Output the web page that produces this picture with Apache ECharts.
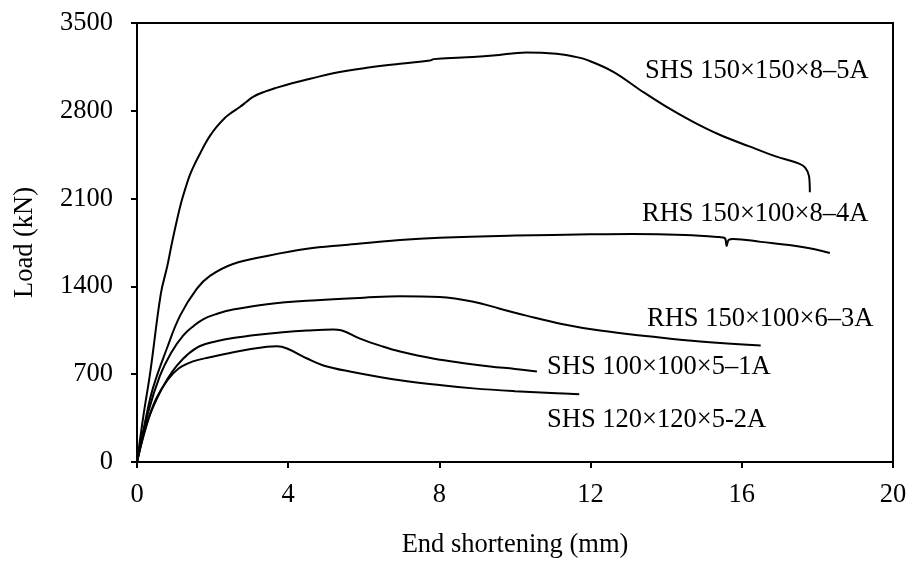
<!DOCTYPE html>
<html>
<head>
<meta charset="utf-8">
<script src="https://cdn.jsdelivr.net/npm/echarts@6/dist/echarts.min.js"></script>
<style>
html,body{margin:0;padding:0;background:#fff;}
#chart{width:914px;height:564px;}
</style>
</head>
<body>
<div id="chart"></div>
<script>
// Axis ticks
var xTicks = [0, 4, 8, 12, 16, 20];
var yTicks = [0, 700, 1400, 2100, 2800, 3500];

// Series names
var names = ['SHS 150×150×8–5A', 'RHS 150×100×8–4A', 'RHS 150×100×6–3A', 'SHS 100×100×5–1A', 'SHS 120×120×5-2A'];

// SHS 150×150×8–5A
var xA = [0, 0.17, 0.35, 0.63, 0.8, 0.92, 1.05, 1.18, 1.3, 1.4, 1.55, 1.67, 1.8, 1.93, 2.1, 2.33, 2.5, 2.72, 2.9, 3.07, 3.4, 3.7, 4.1, 4.58, 5.19, 6.08, 6.96, 7.75, 7.85, 8.6, 9.42, 10.3, 11.1, 11.6, 11.9, 12.6, 13.3, 14.0, 14.7, 15.4, 16.2, 16.9, 17.5, 17.67, 17.78, 17.8];
var yA = [0, 370, 714, 1340, 1560, 1740, 1920, 2080, 2200, 2290, 2390, 2460, 2535, 2600, 2670, 2745, 2785, 2830, 2872, 2912, 2955, 2985, 3020, 3055, 3100, 3143, 3175, 3201, 3212, 3225, 3240, 3265, 3254, 3230, 3206, 3111, 2968, 2833, 2714, 2611, 2516, 2437, 2381, 2349, 2278, 2151];

// RHS 150×100×8–4A
var xB = [0, 0.2, 0.42, 0.79, 1.14, 1.58, 1.93, 2.54, 3.44, 4.5, 5.5, 6.96, 8.0, 10.0, 12.0, 13.1, 14.5, 15.4, 15.55, 15.6, 15.65, 15.77, 16.5, 17.6, 18.33];
var yB = [0, 300, 587, 905, 1167, 1381, 1484, 1579, 1643, 1700, 1730, 1770, 1788, 1805, 1815, 1818, 1810, 1793, 1785, 1722, 1770, 1778, 1755, 1714, 1667];

// RHS 150×100×6–3A
var xC = [0, 0.3, 0.61, 0.9, 1.22, 1.5, 1.76, 2.1, 2.54, 3.44, 4.76, 6.0, 6.96, 8.0, 8.9, 9.6, 10.3, 11.2, 12.25, 13.6, 14.9, 16.5];
var yC = [0, 400, 690, 870, 1008, 1085, 1140, 1180, 1215, 1258, 1290, 1310, 1322, 1315, 1278, 1222, 1167, 1103, 1048, 1000, 960, 929];

// SHS 100×100×5–1A
var xD = [0, 0.25, 0.53, 0.8, 1.06, 1.35, 1.67, 2.1, 2.54, 3.2, 3.86, 4.5, 5.19, 5.4, 5.9, 6.5, 6.96, 7.83, 8.7, 9.34, 10.0, 10.58];
var yD = [0, 300, 508, 660, 770, 860, 925, 962, 988, 1015, 1035, 1048, 1056, 1050, 984, 921, 881, 825, 786, 762, 742, 722];

// SHS 120×120×5-2A
var xE = [0, 0.25, 0.5, 0.8, 1.1, 1.48, 1.93, 2.72, 3.44, 3.7, 3.97, 4.5, 4.93, 5.63, 6.96, 8.06, 8.9, 10.0, 11.1, 11.7];
var yE = [0, 290, 500, 650, 745, 802, 835, 885, 918, 923, 905, 825, 770, 722, 651, 611, 587, 565, 548, 540];

function pairs(xs, ys) { return xs.map(function (x, i) { return [x, ys[i]]; }); }

var FONT = '"Liberation Serif", "Times New Roman", serif';
var FS = 26.5;

var chart = echarts.init(document.getElementById('chart'), null, {renderer: 'canvas'});

var allX = [xA, xB, xC, xD, xE];
var allY = [yA, yB, yC, yD, yE];
var series = names.map(function (n, i) {
  return {
    name: n,
    type: 'line',
    data: pairs(allX[i], allY[i]),
    showSymbol: false,
    smooth: 0.4,
    lineStyle: {color: '#000', width: 2},
    itemStyle: {color: '#000'},
    animation: false
  };
});

var labelPos = [[645, 71], [642, 214], [647, 319], [547, 367], [547, 420]];
var graphics = names.map(function (n, i) {
  return {
    type: 'text',
    x: labelPos[i][0],
    y: labelPos[i][1],
    style: {text: n, font: FS + 'px ' + FONT, fill: '#000', verticalAlign: 'middle', align: 'left'}
  };
});

chart.setOption({
  backgroundColor: '#fff',
  animation: false,
  grid: {left: 137, right: 21, top: 23, bottom: 100, show: true, borderColor: '#000', borderWidth: 2, backgroundColor: 'transparent'},
  xAxis: {
    type: 'value', min: xTicks[0], max: xTicks[xTicks.length - 1], interval: xTicks[1] - xTicks[0],
    name: 'End shortening (mm)', nameLocation: 'middle', nameGap: 70,
    nameTextStyle: {fontFamily: FONT, fontSize: FS, color: '#000'},
    axisLine: {lineStyle: {color: '#000', width: 2}},
    axisTick: {show: true, inside: false, length: 6, lineStyle: {color: '#000', width: 2}},
    axisLabel: {fontFamily: FONT, fontSize: FS, color: '#000', margin: 20},
    splitLine: {show: false}
  },
  yAxis: {
    type: 'value', min: yTicks[0], max: yTicks[yTicks.length - 1], interval: yTicks[1] - yTicks[0],
    name: 'Load (kN)', nameLocation: 'middle', nameGap: 98,
    nameTextStyle: {fontFamily: FONT, fontSize: FS, color: '#000'},
    axisLine: {show: true, lineStyle: {color: '#000', width: 2}},
    axisTick: {show: true, inside: false, length: 6, lineStyle: {color: '#000', width: 2}},
    axisLabel: {fontFamily: FONT, fontSize: FS, color: '#000', margin: 24, formatter: function (v) { return String(v); }},
    splitLine: {show: false}
  },
  series: series,
  graphic: graphics
});
</script>
</body>
</html>
